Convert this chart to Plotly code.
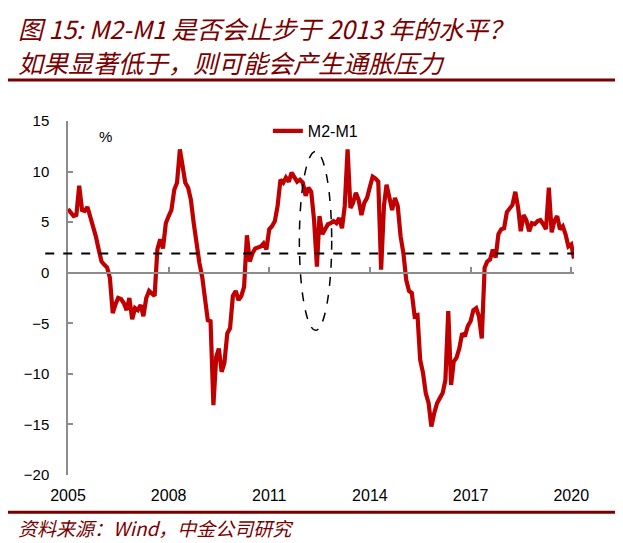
import plotly.graph_objects as go
import pandas as pd

# monthly M2-M1 spread (%), Sep 2005 - Oct 2020
start_month = "2005-09-01"
m2_m1 = [
    6.3, 5.9, 5.6, 5.7, 8.6, 6.2, 6.1, 6.5, 5.6, 4.6, 3.6, 2.3,
    1.1, 0.8, 0.5, -0.5, -4.0, -3.1, -2.5, -2.6, -3.0, -3.7, -2.5, -4.6,
    -3.5, -3.7, -3.2, -4.3, -2.5, -1.8, -2.0, -2.3, 2.3, 3.3, 2.4, 4.9,
    5.6, 6.2, 8.2, 8.9, 12.2, 10.5, 8.9, 8.4, 7.2, 4.9, 2.6, 1.0,
    -0.4, -2.8, -4.7, -4.8, -13.1, -8.3, -7.5, -9.8, -8.9, -6.0, -5.5, -2.3,
    -1.8, -2.7, -2.3, -1.4, 3.7, 1.1, 1.9, 2.4, 2.5, 2.6, 2.9, 2.3,
    4.3, 4.6, 5.1, 6.6, 9.2, 8.9, 9.4, 9.0, 9.9, 9.5, 9.0, 9.2,
    8.9, 7.6, 8.4, 8.0, 5.2, 0.6, 5.6, 3.8, 4.4, 4.8, 4.9, 5.1,
    4.9, 5.4, 4.4, 6.6, 12.2, 6.4, 6.9, 7.9, 7.2, 5.7, 6.9, 7.4,
    8.5, 9.5, 9.3, 9.0, 0.3, 6.6, 8.7, 7.6, 6.2, 7.4, 6.6, 3.6,
    1.9, -0.7, -1.8, -2.0, -4.3, -4.2, -8.6, -9.9, -11.9, -12.9, -15.2, -13.9,
    -12.9, -12.4, -11.9, -10.6, -3.8, -11.1, -8.8, -8.4, -7.5, -6.0, -6.3, -5.3,
    -4.8, -3.7, -3.5, -4.3, -6.5, 0.5, 1.1, 1.3, 2.3, 1.5, 3.8, 4.3,
    4.4, 6.0, 6.4, 6.7, 8.0, 6.4, 4.1, 5.7, 5.2, 4.1, 4.9, 4.8,
    5.1, 5.2, 4.8, 4.3, 8.4, 4.0, 5.1, 5.6, 4.3, 4.6, 3.8, 2.6,
    2.8, 1.4,
]
dates = pd.date_range(start_month, periods=len(m2_m1), freq="MS")

tick_vals = ["2005-09-01", "2008-09-01", "2011-09-01", "2014-09-01", "2017-09-01", "2020-09-01"]
tick_text = ["2005", "2008", "2011", "2014", "2017", "2020"]

ref_level = 1.9          # dashed threshold line
y_min, y_max = -20, 15
ellipse_x = ["2012-07-25", "2013-07-12"]
ellipse_y = [-5.7, 12.0]

red = "#C00000"
maroon = "#7A0000"
axis_grey = "#8C8C8C"
cjk = "Noto Sans CJK SC"

fig = go.Figure()
fig.add_trace(go.Scatter(x=dates, y=m2_m1, mode="lines", name="M2-M1",
                         line=dict(color=red, width=4.2)))
# carrier trace for the axis drawn through zero
fig.add_trace(go.Scatter(x=dates[:1], y=m2_m1[:1], xaxis="x2", mode="none",
                         showlegend=False, hoverinfo="skip"))

fig.add_shape(type="line", xref="paper", yref="y", x0=-0.045, x1=1.0,
              y0=ref_level, y1=ref_level, line=dict(color="black", width=2, dash="dash"))
fig.add_shape(type="circle", xref="x", yref="y", x0=ellipse_x[0], x1=ellipse_x[1],
              y0=ellipse_y[0], y1=ellipse_y[1], line=dict(color="black", width=1.5, dash="dash"))

# title block and rules
fig.add_annotation(text="图 15: M2-M1 是否会止步于 2013 年的水平？", xref="paper", yref="paper",
                   x=-0.103, y=1.262, xanchor="left", yanchor="middle", showarrow=False,
                   font=dict(family=cjk, size=25, color=maroon, style="italic"))
fig.add_annotation(text="如果显著低于，则可能会产生通胀压力", xref="paper", yref="paper",
                   x=-0.103, y=1.166, xanchor="left", yanchor="middle", showarrow=False,
                   font=dict(family=cjk, size=25, color=maroon, style="italic"))
fig.add_shape(type="line", xref="paper", yref="paper", x0=-0.119, x1=1.087, y0=1.116, y1=1.116,
              line=dict(color=maroon, width=3))
fig.add_shape(type="line", xref="paper", yref="paper", x0=-0.119, x1=1.087, y0=-0.105, y1=-0.105,
              line=dict(color=maroon, width=3))
fig.add_annotation(text="资料来源：<i>Wind</i>，中金公司研究", xref="paper", yref="paper",
                   x=-0.103, y=-0.148, xanchor="left", yanchor="middle", showarrow=False,
                   font=dict(family=cjk, size=19, color=maroon, style="italic"))
fig.add_annotation(text="%", xref="paper", yref="paper", x=0.057, y=0.986,
                   showarrow=False, font=dict(family="Arial", size=15, color="black"))

# the page adds an 8px body margin, so the figure is 8px smaller than the window
fig.update_layout(
    width=615, height=535,
    margin=dict(l=60, r=49, t=113, b=68),
    paper_bgcolor="white", plot_bgcolor="white",
    font=dict(family="Arial", size=15, color="black"),
    showlegend=True,
    legend=dict(x=0.395, y=0.972, xanchor="left", yanchor="middle",
                bgcolor="rgba(0,0,0,0)", font=dict(size=16)),
    xaxis=dict(type="date", range=[dates[0], dates[-1]], tickvals=tick_vals, ticktext=tick_text,
               showline=False, showgrid=False, zeroline=False, ticks="",
               tickfont=dict(size=16), ticklabelstandoff=9),
    xaxis2=dict(type="date", matches="x", overlaying="x", anchor="free",
                position=(0 - y_min) / (y_max - y_min), tickvals=tick_vals,
                showticklabels=False, showline=True, linecolor=axis_grey, linewidth=1.5,
                ticks="inside", ticklen=5, tickcolor=axis_grey, tickwidth=1.5, showgrid=False),
    yaxis=dict(range=[y_min, y_max], dtick=5, showgrid=False, zeroline=False,
               showline=True, linecolor=axis_grey, linewidth=1.5,
               ticks="inside", ticklen=5, tickcolor=axis_grey, tickwidth=1.5,
               ticklabelstandoff=14),
)

fig.write_html("out.html")
